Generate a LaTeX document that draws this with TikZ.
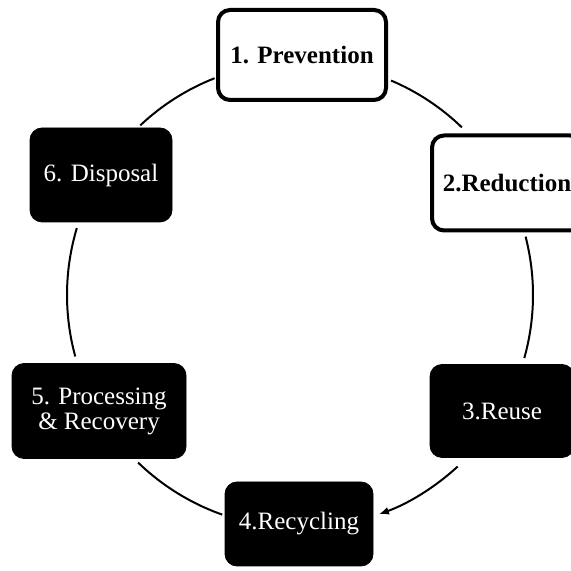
\documentclass[tikz,border=0pt]{standalone}
\usepackage{fontspec}
\setmainfont{Liberation Serif}
\usetikzlibrary{arrows.meta}
\tikzstyle{darkbox} = [draw=black, fill=black, text=white, rounded corners=6pt, inner sep=0pt, align=center, font=\fontsize{12.5}{12.5}\selectfont]
\tikzstyle{lightbox} = [draw=black, line width=2pt, fill=white, text=black, rounded corners=6pt, inner sep=0pt, align=center, font=\fontsize{12.5}{12.5}\selectfont\bfseries]
\tikzstyle{ring} = [line width=1pt]

\begin{document}
\begin{tikzpicture}[x=0.5pt, y=0.5pt]
	\useasboundingbox (0,0) rectangle (570,571);
	%\draw[help lines,step=50] (0,0) grid (570,571);
	\coordinate (ctr) at (300,276);

	\node [lightbox, minimum width=84pt, minimum height=45pt] (prev) at (302,516) {1. Prevention};
	\node [lightbox, minimum width=75pt, minimum height=47.5pt] (red) at (507,388) {2.Reduction};
	\node [darkbox, minimum width=72pt, minimum height=46.5pt] (reuse) at (502,160) {3.Reuse};
	\node [darkbox, minimum width=74pt, minimum height=42pt] (recyc) at (299,47) {4.Recycling};
	\node [darkbox, minimum width=87pt, minimum height=47.5pt] (proc) at (99,160) {5. Processing\\\& Recovery};
	\node [darkbox, minimum width=71pt, minimum height=47pt] (disp) at (101,396) {6. Disposal};

	% arcs of the ring between the boxes
	\draw [ring] ([shift={(67:233)}]ctr) arc [start angle=67, end angle=46, radius=233];
	\draw [ring] ([shift={(14.5:233)}]ctr) arc [start angle=14.5, end angle=-15.7, radius=233];
	\draw [ring, -{Latex[length=5pt, width=4pt]}] ([shift={(-47.4:233)}]ctr) arc [start angle=-47.4, end angle=-70.2, radius=233];
	\draw [ring] ([shift={(-109.5:233)}]ctr) arc [start angle=-109.5, end angle=-134, radius=233];
	\draw [ring] ([shift={(195.3:233)}]ctr) arc [start angle=195.3, end angle=163.3, radius=233];
	\draw [ring] ([shift={(133.3:233)}]ctr) arc [start angle=133.3, end angle=111.5, radius=233];
\end{tikzpicture}
\end{document}
